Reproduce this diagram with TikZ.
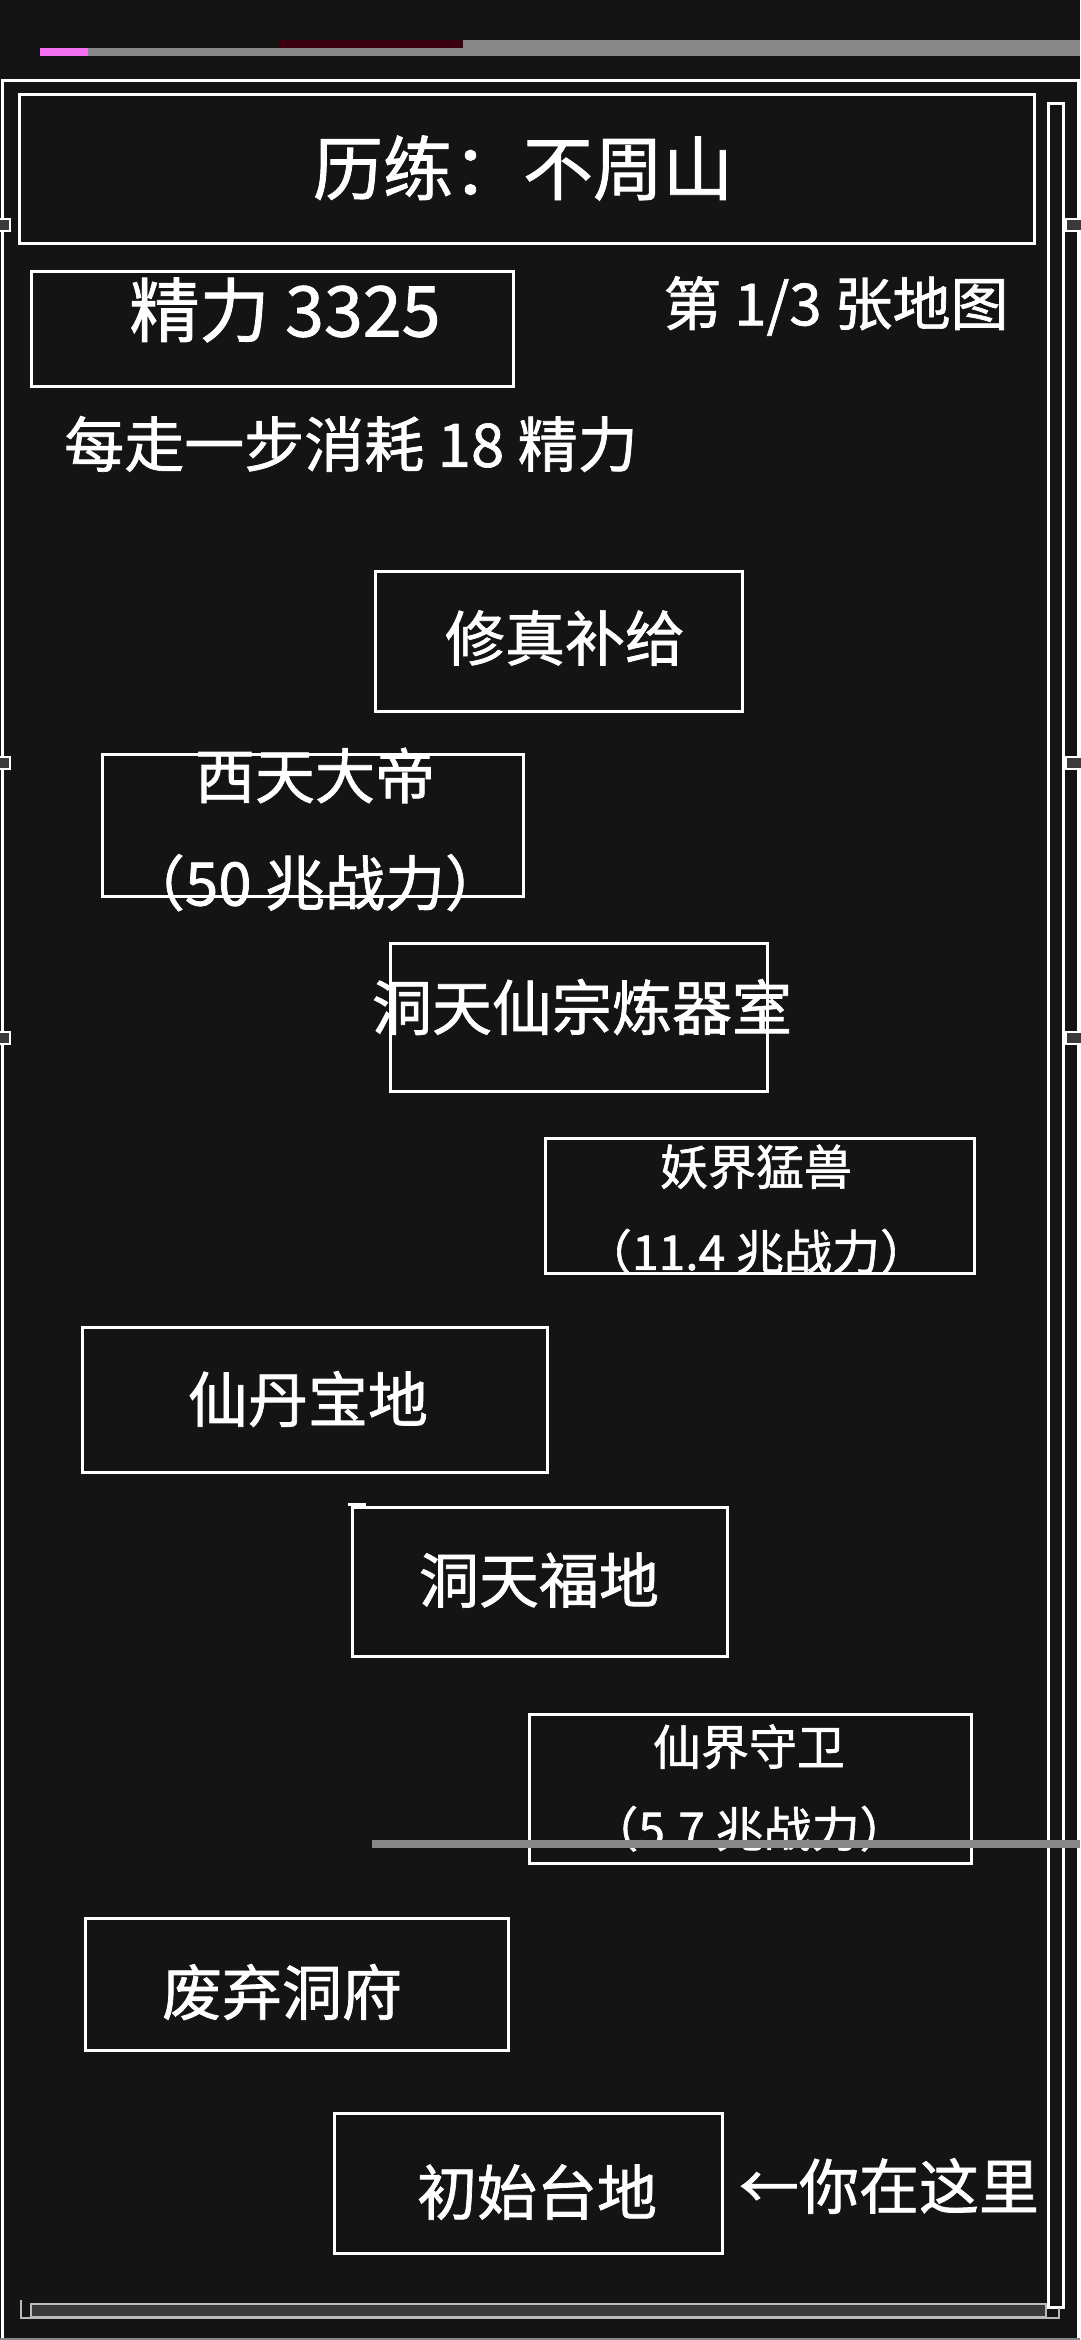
\documentclass[tikz,border=0pt]{standalone}
\usepackage{fontspec}
\newfontfamily\cjk[FakeBold=1.2]{Noto Sans CJK SC}
\definecolor{bgdark}{HTML}{141414}
\definecolor{bargray}{HTML}{888888}
\definecolor{bardark}{HTML}{3A3A3A}
\definecolor{barlight}{HTML}{BBBBBB}
\definecolor{glitchred}{HTML}{3A0010}
\definecolor{glitchpink}{HTML}{F070F0}
\tikzset{
  place/.style={draw=white, line width=3pt, inner sep=0pt},
  bigtext/.style={text=white, inner sep=0pt, font=\cjk\fontsize{60}{107}\selectfont, align=center},
  smalltext/.style={text=white, inner sep=0pt, font=\cjk\fontsize{48}{85}\selectfont, align=center},
  sidemark/.style={draw=white, line width=2pt, fill=bardark}
}
\begin{document}
\begin{tikzpicture}[x=1pt, y=-1pt]
			%%%%% FRAME %%%%%
			\fill[bgdark] (0, 0) rectangle (1080, 2340);
			\useasboundingbox (0, 0) rectangle (1080, 2340);
			
			\fill[glitchpink] (40, 48) rectangle (88, 56);
			\fill[bargray] (88, 48) rectangle (1080, 56);
			\fill[glitchred] (279, 40) rectangle (463, 48);
			\fill[bargray] (463, 40) rectangle (1080, 48);
			
			\draw[white, line width=3pt] (2, 2338) -- (2, 80) -- (1078, 80) -- (1078, 2338);
			\draw[bargray, line width=2pt] (0, 2339) -- (1080, 2339);
			\draw[white, line width=3pt] (1048, 103) rectangle (1063, 2307);
			
			\foreach \y in {219, 757, 1032} {
				\draw[sidemark] (-2, \y) rectangle (10, \y+12);
				\draw[sidemark] (1082, \y) rectangle (1066, \y+12);
			}
			
			\draw[barlight, line width=2pt, fill=bardark] (31, 2304) rectangle (1046, 2317);
			\draw[barlight, line width=2pt] (21, 2300) -- (21, 2318) -- (1059, 2318) -- (1059, 2308);
			
			%%%%% HEADER %%%%%
			\node[place, minimum width=1015pt, minimum height=149pt] (titlebox) at (526.5, 168.5) {};
			\node[bigtext, font=\cjk\fontsize{70}{80}\selectfont] (title) at (523, 168) {历练：不周山};
			
			\node[place, minimum width=482pt, minimum height=115pt] (energybox) at (272, 328.5) {};
			\node[bigtext, font=\cjk\fontsize{70}{80}\selectfont] (energy) at (285, 310) {精力 3325};
			\node[bigtext, font=\cjk\fontsize{58}{70}\selectfont] (mapno) at (836, 306) {第 1/3 张地图};
			\node[bigtext] (cost) at (351, 444) {每走一步消耗 18 精力};
			
			%%%%% MAP %%%%%
			\node[place, minimum width=367pt, minimum height=140pt] (xiuzhen) at (558.5, 641) {};
			\node[bigtext] (xiuzhenT) at (565, 638) {修真补给};
			
			\node[place, minimum width=421pt, minimum height=142pt] (xitian) at (312.5, 825) {};
			\node[bigtext] (xitianT) at (315, 829.5) {西天大帝\\（50 兆战力）};
			
			\node[place, minimum width=377pt, minimum height=148pt] (lianqi) at (578.5, 1017) {};
			\node[bigtext] (lianqiT) at (582, 1007) {洞天仙宗炼器室};
			
			\node[place, minimum width=429pt, minimum height=135pt] (yaojie) at (759.5, 1205.5) {};
			\node[smalltext] (yaojieT) at (756, 1209.5) {妖界猛兽\\（11.4 兆战力）};
			
			\node[place, minimum width=465pt, minimum height=145pt] (xiandan) at (314.5, 1399.5) {};
			\node[bigtext] (xiandanT) at (308, 1399) {仙丹宝地};
			
			\node[place, minimum width=375pt, minimum height=149pt] (fudi) at (539.5, 1581.5) {};
			\node[bigtext] (fudiT) at (539, 1580) {洞天福地};
			\fill[white] (348, 1503) rectangle (366, 1506);
			
			\node[place, minimum width=442pt, minimum height=149pt] (shouwei) at (750, 1788.5) {};
			\node[smalltext, font=\cjk\fontsize{48}{82}\selectfont] (shouweiT) at (749, 1788) {仙界守卫\\（5.7 兆战力）};
			\fill[bargray] (372, 1840) rectangle (1080, 1848);
			
			\node[place, minimum width=423pt, minimum height=132pt] (feiqi) at (296.5, 1984) {};
			\node[bigtext] (feiqiT) at (282, 1992) {废弃洞府};
			
			\node[place, minimum width=388pt, minimum height=140pt] (chushi) at (528, 2183) {};
			\node[bigtext] (chushiT) at (537, 2192) {初始台地};
			\node[bigtext] (here) at (889, 2186) {←你在这里};
			
			%%%%% END %%%%%
\end{tikzpicture}
\end{document}
